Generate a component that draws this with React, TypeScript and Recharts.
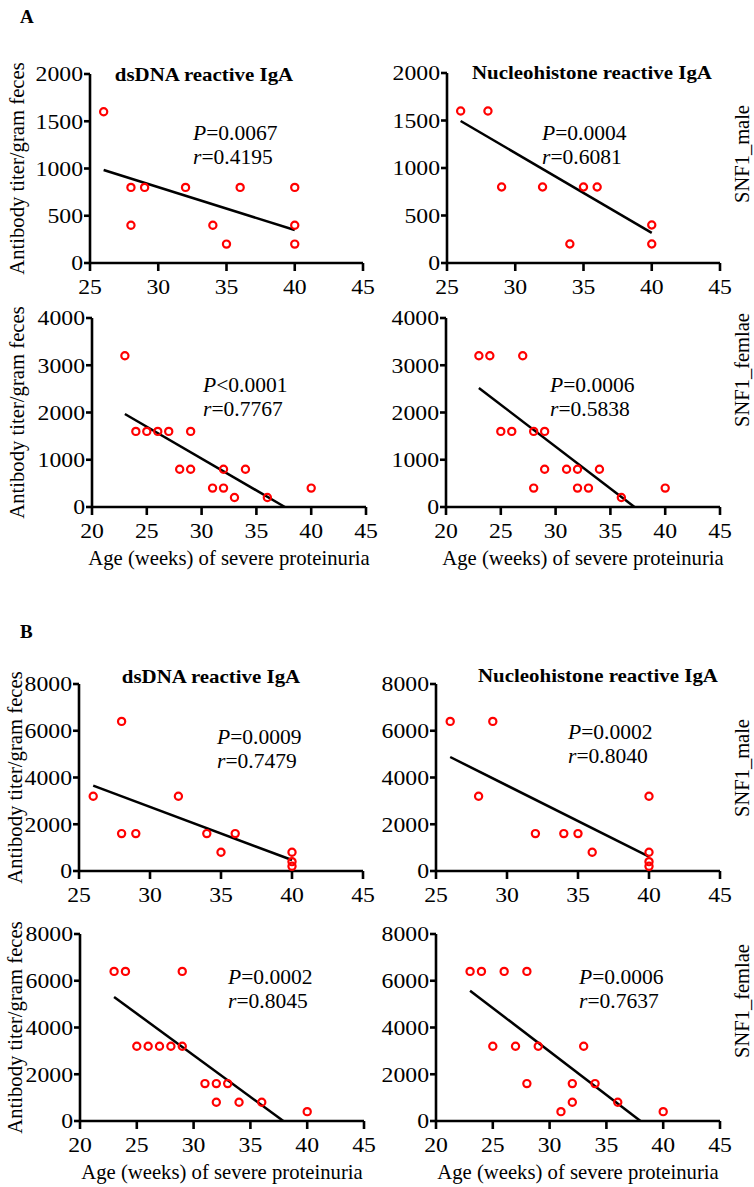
import React from 'react';
import { ScatterChart, Scatter, XAxis, YAxis } from 'recharts';

// ---- data ----
const xTicksTop = [25, 30, 35, 40, 45];
const xTicksBottom = [20, 25, 30, 35, 40, 45];
const yTicksA1 = [0, 500, 1000, 1500, 2000];
const yTicksA2 = [0, 1000, 2000, 3000, 4000];
const yTicksB = [0, 2000, 4000, 6000, 8000];

// A, SNF1 male, dsDNA
const aMaleDsAge = [26, 28, 28, 29, 32, 34, 35, 36, 40, 40, 40];
const aMaleDsTiter = [1600, 800, 400, 800, 800, 400, 200, 800, 800, 400, 200];
const aMaleDsFitAge = [26, 40];
const aMaleDsFitTiter = [984, 349];
// A, SNF1 male, nucleohistone
const aMaleNhAge = [26, 28, 29, 32, 34, 35, 36, 40, 40];
const aMaleNhTiter = [1600, 1600, 800, 800, 200, 800, 800, 400, 200];
const aMaleNhFitAge = [26, 40];
const aMaleNhFitTiter = [1495, 317];
// A, SNF1 female, dsDNA
const aFemDsAge = [23, 24, 25, 26, 27, 28, 29, 29, 31, 32, 32, 33, 34, 36, 40];
const aFemDsTiter = [3200, 1600, 1600, 1600, 1600, 800, 1600, 800, 400, 800, 400, 200, 800, 200, 400];
const aFemDsFitAge = [23, 37.6];
const aFemDsFitTiter = [1968, 0];
// A, SNF1 female, nucleohistone
const aFemNhAge = [23, 24, 27, 25, 26, 28, 29, 28, 29, 31, 32, 32, 33, 34, 36, 40];
const aFemNhTiter = [3200, 3200, 3200, 1600, 1600, 1600, 1600, 400, 800, 800, 800, 400, 400, 800, 200, 400];
const aFemNhFitAge = [23, 37.2];
const aFemNhFitTiter = [2519, 0];
// B, SNF1 male, dsDNA
const bMaleDsAge = [26, 28, 28, 29, 32, 34, 35, 36, 40, 40, 40];
const bMaleDsTiter = [3200, 6400, 1600, 1600, 3200, 1600, 800, 1600, 800, 400, 200];
const bMaleDsFitAge = [26, 40];
const bMaleDsFitTiter = [3650, 470];
// B, SNF1 male, nucleohistone
const bMaleNhAge = [26, 28, 29, 32, 34, 35, 36, 40, 40, 40, 40];
const bMaleNhTiter = [6400, 3200, 6400, 1600, 1600, 1600, 800, 3200, 800, 400, 200];
const bMaleNhFitAge = [26, 40];
const bMaleNhFitTiter = [4877, 612];
// B, SNF1 female, dsDNA
const bFemDsAge = [23, 24, 25, 26, 27, 28, 29, 29, 31, 32, 32, 33, 34, 36, 40];
const bFemDsTiter = [6400, 6400, 3200, 3200, 3200, 3200, 3200, 6400, 1600, 1600, 800, 1600, 800, 800, 400];
const bFemDsFitAge = [23, 37.9];
const bFemDsFitTiter = [5305, 0];
// B, SNF1 female, nucleohistone
const bFemNhAge = [23, 24, 26, 28, 25, 27, 29, 33, 28, 32, 34, 32, 31, 36, 40];
const bFemNhTiter = [6400, 6400, 6400, 6400, 3200, 3200, 3200, 3200, 1600, 1600, 1600, 800, 400, 800, 400];
const bFemNhFitAge = [23, 38.0];
const bFemNhFitTiter = [5575, 0];

const zip = (xs: number[], ys: number[]) => xs.map((x, i) => ({ x, y: ys[i] }));

const FONT = '"Liberation Serif", "Times New Roman", serif';
const TICK_SIZE = 21;
const STRETCH = 1.13; // the figure's glyphs are a bit wider than the font's

const Ring = (props: any) => (
  <circle cx={props.cx} cy={props.cy} r={3.6} fill="none" stroke="#ff0000" strokeWidth={2.2} />
);
const NoDot = () => <g />;

const XTick = ({ x, y, payload }: any) => (
  <g transform={`translate(${x},${y})`}>
    <text transform={`scale(${STRETCH},1)`} textAnchor="middle" dy="0.71em" fill="#000" fontSize={TICK_SIZE} fontFamily={FONT}>
      {payload.value}
    </text>
  </g>
);
const YTick = ({ x, y, payload }: any) => (
  <g transform={`translate(${x},${y})`}>
    <text transform={`scale(${STRETCH},1)`} textAnchor="end" dy="0.35em" fill="#000" fontSize={TICK_SIZE} fontFamily={FONT}>
      {payload.value}
    </text>
  </g>
);

type PanelProps = {
  left: number; right: number; top: number; bottom: number;
  xTicks: number[]; yTicks: number[];
  points: { x: number; y: number }[];
  fit: { x: number; y: number }[];
  yLabelX?: number;
  xLabel?: boolean;
};

const Panel = ({ left, right, top, bottom, xTicks, yTicks, points, fit, yLabelX, xLabel }: PanelProps) => {
  const axisW = 100;
  const topPad = 20;
  const axisH = 70;
  const w = right - left + axisW + 20;
  const h = bottom - top + topPad + axisH;
  const x0 = left - axisW;
  return (
    <div style={{ position: 'absolute', left: x0, top: top - topPad }}>
      <ScatterChart width={w} height={h} margin={{ top: topPad, right: 20, bottom: 0, left: 0 }}>
        <XAxis
          type="number" dataKey="x" domain={[xTicks[0], xTicks[xTicks.length - 1]]} ticks={xTicks}
          interval={0} height={axisH} tickSize={8} tickMargin={8}
          axisLine={{ stroke: '#000', strokeWidth: 2.6 }} tickLine={{ stroke: '#000', strokeWidth: 2.6 }}
          tick={(p: any) => <XTick {...p} />}
          label={xLabel ? { value: 'Age (weeks) of severe proteinuria', position: 'insideBottom', offset: 12, fill: '#000', fontSize: 20.7, fontFamily: FONT } : undefined}
        />
        <YAxis
          type="number" dataKey="y" domain={[yTicks[0], yTicks[yTicks.length - 1]]} ticks={yTicks}
          interval={0} width={axisW} tickSize={6} tickMargin={1}
          axisLine={{ stroke: '#000', strokeWidth: 2.6 }} tickLine={{ stroke: '#000', strokeWidth: 2.6 }}
          tick={(p: any) => <YTick {...p} />}
          label={yLabelX !== undefined ? {
            value: 'Antibody titer/gram feces', angle: -90, position: 'insideLeft', offset: yLabelX - x0,
            fill: '#000', fontSize: 20.7, fontFamily: FONT, style: { textAnchor: 'middle' },
          } : undefined}
        />
        <Scatter data={fit} line={{ stroke: '#000', strokeWidth: 2.5 }} shape={NoDot} isAnimationActive={false} />
        <Scatter data={points} shape={Ring} isAnimationActive={false} />
      </ScatterChart>
    </div>
  );
};

const Txt = ({ x, y, children, bold, center, size = 20, rotate, sx = 1 }: any) => (
  <div
    style={{
      position: 'absolute', left: x, top: y, fontFamily: FONT, fontSize: size, lineHeight: 1,
      fontWeight: bold ? 'bold' : 'normal', whiteSpace: 'nowrap', color: '#000',
      transformOrigin: center || rotate ? '50% 50%' : '0 50%',
      transform: `translate(${center || rotate ? '-50%' : '0'}, -50%)${rotate ? ' rotate(-90deg)' : ''} scaleX(${sx})`,
    }}
  >
    {children}
  </div>
);

const Stat = ({ x, y, p, r, less }: any) => (
  <>
    <Txt x={x} y={y} size={20.5} sx={1.05}><i>P</i>{less ? '<' : '='}{p}</Txt>
    <Txt x={x} y={y + 23.5} size={20.5} sx={1.05}><i>r</i>={r}</Txt>
  </>
);

export default function App() {
  return (
    <div style={{ position: 'absolute', left: 0, top: 0, width: 754, height: 1187, background: '#fff', overflow: 'hidden' }}>
      <Txt x={20} y={16} bold size={19}>A</Txt>
      <Txt x={20} y={631} bold size={19}>B</Txt>

      <Panel left={90} right={363} top={74} bottom={263} xTicks={xTicksTop} yTicks={yTicksA1}
        points={zip(aMaleDsAge, aMaleDsTiter)} fit={zip(aMaleDsFitAge, aMaleDsFitTiter)} yLabelX={17} />
      <Panel left={447} right={720} top={73} bottom={263} xTicks={xTicksTop} yTicks={yTicksA1}
        points={zip(aMaleNhAge, aMaleNhTiter)} fit={zip(aMaleNhFitAge, aMaleNhFitTiter)} />
      <Panel left={92} right={366} top={318} bottom={507} xTicks={xTicksBottom} yTicks={yTicksA2}
        points={zip(aFemDsAge, aFemDsTiter)} fit={zip(aFemDsFitAge, aFemDsFitTiter)} yLabelX={17} xLabel />
      <Panel left={446} right={720} top={318} bottom={507} xTicks={xTicksBottom} yTicks={yTicksA2}
        points={zip(aFemNhAge, aFemNhTiter)} fit={zip(aFemNhFitAge, aFemNhFitTiter)} xLabel />

      <Panel left={79} right={363} top={684} bottom={871} xTicks={xTicksTop} yTicks={yTicksB}
        points={zip(bMaleDsAge, bMaleDsTiter)} fit={zip(bMaleDsFitAge, bMaleDsFitTiter)} yLabelX={15} />
      <Panel left={436} right={720} top={684} bottom={871} xTicks={xTicksTop} yTicks={yTicksB}
        points={zip(bMaleNhAge, bMaleNhTiter)} fit={zip(bMaleNhFitAge, bMaleNhFitTiter)} />
      <Panel left={80} right={364} top={934} bottom={1121} xTicks={xTicksBottom} yTicks={yTicksB}
        points={zip(bFemDsAge, bFemDsTiter)} fit={zip(bFemDsFitAge, bFemDsFitTiter)} yLabelX={15} xLabel />
      <Panel left={436} right={720} top={934} bottom={1121} xTicks={xTicksBottom} yTicks={yTicksB}
        points={zip(bFemNhAge, bFemNhTiter)} fit={zip(bFemNhFitAge, bFemNhFitTiter)} xLabel />

      <Txt x={204} y={74} bold center size={19} sx={1.1}>dsDNA reactive IgA</Txt>
      <Txt x={592} y={72} bold center size={19} sx={1.1}>Nucleohistone reactive IgA</Txt>
      <Txt x={211} y={676} bold center size={19} sx={1.1}>dsDNA reactive IgA</Txt>
      <Txt x={598} y={675} bold center size={19} sx={1.1}>Nucleohistone reactive IgA</Txt>

      <Stat x={193} y={133} p="0.0067" r="0.4195" />
      <Stat x={542} y={133} p="0.0004" r="0.6081" />
      <Stat x={203} y={385} p="0.0001" r="0.7767" less />
      <Stat x={550} y={385} p="0.0006" r="0.5838" />
      <Stat x={217} y={737} p="0.0009" r="0.7479" />
      <Stat x={568} y={732} p="0.0002" r="0.8040" />
      <Stat x={228} y={977} p="0.0002" r="0.8045" />
      <Stat x={579} y={977} p="0.0006" r="0.7637" />

      <Txt x={742} y={154} rotate size={20.5}>SNF1_male</Txt>
      <Txt x={742} y={370} rotate size={20.5}>SNF1_femlae</Txt>
      <Txt x={742} y={768} rotate size={20.5}>SNF1_male</Txt>
      <Txt x={742} y={1001} rotate size={20.5}>SNF1_femlae</Txt>
    </div>
  );
}
